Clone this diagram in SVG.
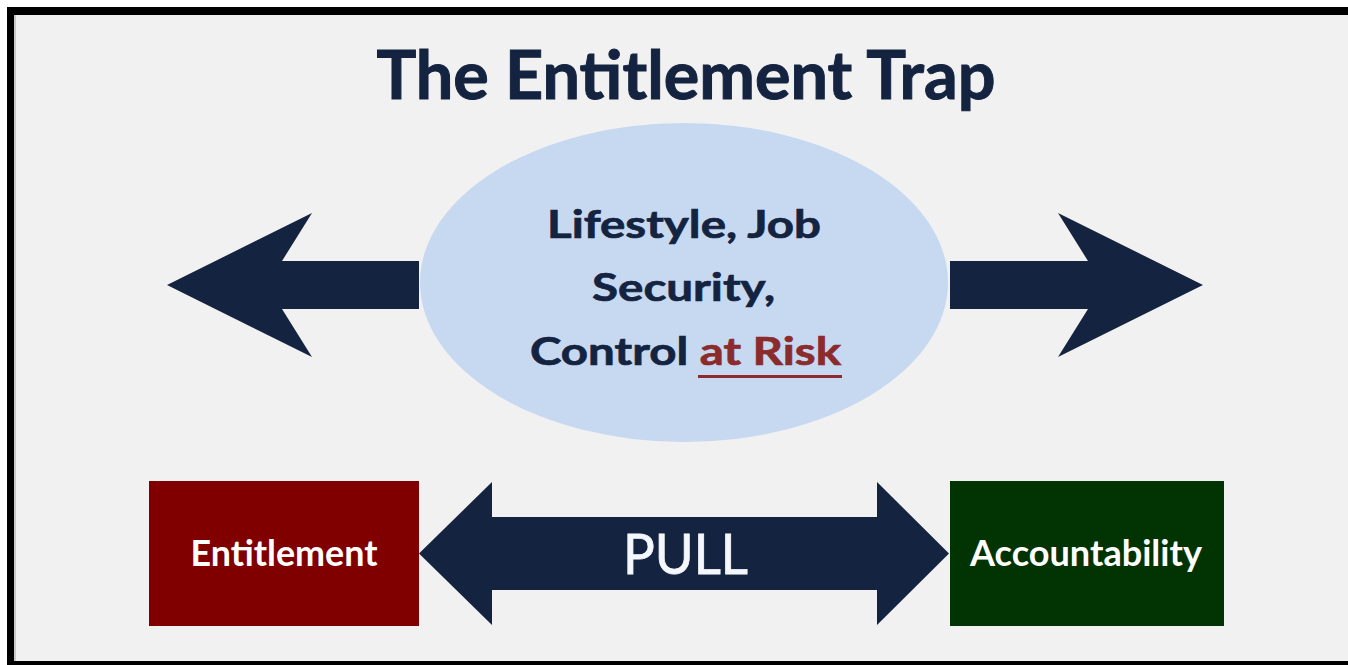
<svg xmlns="http://www.w3.org/2000/svg" width="1348" height="665" viewBox="0 0 1348 665">
  <style>
    .navy { fill: #14233f; }
    .t { font-family: Lato, "Open Sans", "Liberation Sans", sans-serif; font-weight: bold; text-anchor: middle; }
    .title { font-size: 66px; fill: #14233f; stroke: #14233f; stroke-width: 1px; }
    .ell { font-size: 39px; fill: #14233f; stroke: #14233f; stroke-width: 0.7px; }
    .risk { fill: #8b2b2b; stroke: #8b2b2b; }
    .box { font-size: 36px; fill: #ffffff; }
    .pull { font-size: 56px; font-weight: normal; fill: #f4f7fb; stroke: #f4f7fb; stroke-width: 0.8px; }
  </style>
  <!-- background and frame -->
  <rect x="0" y="0" width="1348" height="665" fill="#ffffff"/>
  <rect x="7" y="7" width="1341" height="658" fill="#f1f1f1"/>
  <rect x="7" y="7" width="1341" height="8" fill="#000000"/>
  <rect x="7" y="7" width="7" height="658" fill="#000000"/>
  <rect x="14" y="15" width="2" height="646" fill="#c9c9c9"/>
  <rect x="7" y="661" width="1341" height="4" fill="#000000"/>

  <g id="title">
    <text class="t title" x="686" y="99" textLength="619" lengthAdjust="spacingAndGlyphs">The Entitlement Trap</text>
  </g>

  <g id="connectors">
    <g id="arrow-left">
      <polygon class="navy" points="167,285 312,213 282,261 419,261 419,309 282,309 312,357"/>
    </g>
    <g id="arrow-right">
      <polygon class="navy" points="1203,285 1058,213 1088,261 950,261 950,309 1088,309 1058,357"/>
    </g>
    <g id="pull">
      <polygon class="navy" points="419,553.5 492,482 492,517 877,517 877,482 949,553.5 877,625 877,590 492,590 492,625"/>
      <text class="t pull" x="685.5" y="574" textLength="125" lengthAdjust="spacingAndGlyphs">PULL</text>
    </g>
  </g>

  <g id="at-risk">
    <ellipse cx="684" cy="282.5" rx="264" ry="159.5" fill="#c6d9f1"/>
    <text class="t ell" x="684" y="238" textLength="274" lengthAdjust="spacingAndGlyphs">Lifestyle, Job</text>
    <text class="t ell" x="683.5" y="301" textLength="183" lengthAdjust="spacingAndGlyphs">Security,</text>
    <text class="t ell" x="685.5" y="365" textLength="311" lengthAdjust="spacingAndGlyphs">Control <tspan class="risk">at Risk</tspan></text>
    <line x1="698" y1="376.5" x2="842" y2="376.5" stroke="#8b2b2b" stroke-width="3"/>
  </g>

  <g id="entitlement">
    <rect x="149" y="481" width="270" height="145" fill="#800000"/>
    <text class="t box" x="284" y="566" textLength="187" lengthAdjust="spacingAndGlyphs">Entitlement</text>
  </g>

  <g id="accountability">
    <rect x="950" y="481" width="274" height="145" fill="#023302"/>
    <text class="t box" x="1086" y="566" textLength="232" lengthAdjust="spacingAndGlyphs" fill="#f0f8ec">Accountability</text>
  </g>
</svg>
